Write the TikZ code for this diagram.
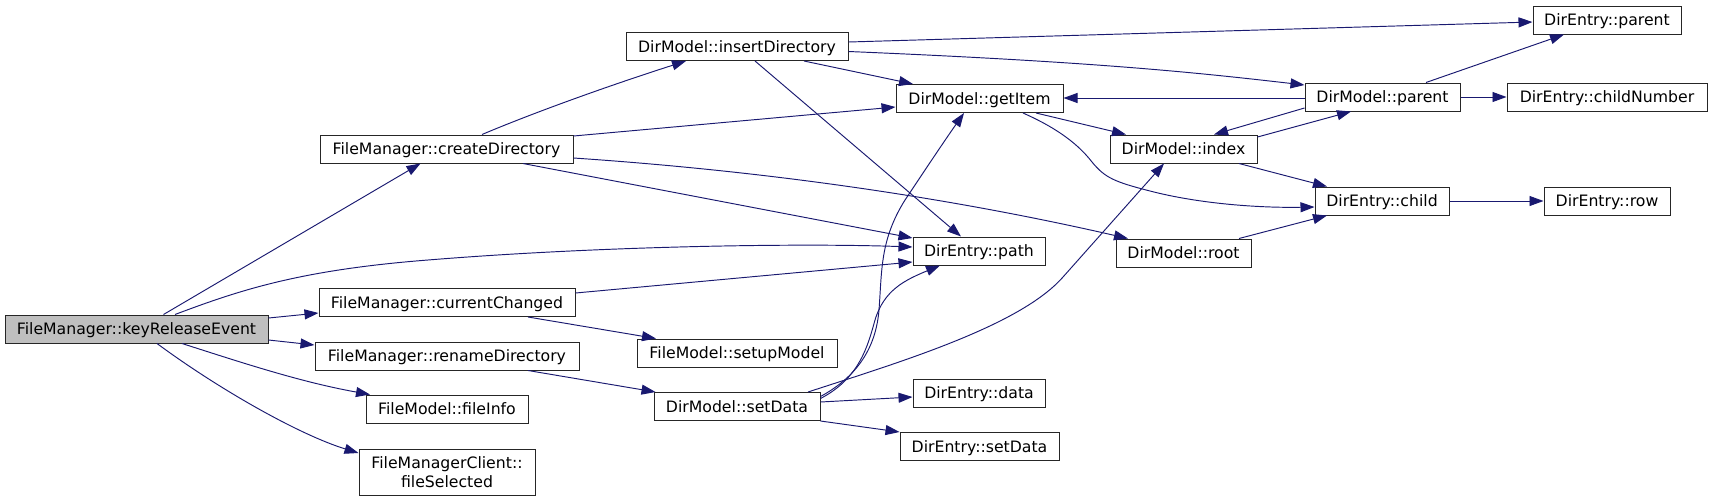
\documentclass[tikz,border=0pt]{standalone}
\usepackage{fontspec}
\setmainfont{DejaVu Sans}
\usetikzlibrary{arrows.meta}
\definecolor{edgeblue}{HTML}{191970}
\definecolor{kgray}{HTML}{BFBFBF}
\begin{document}
\begin{tikzpicture}[x=1pt,y=-1pt,
  boxbase/.style={draw=black!85, line width=1pt, rectangle, inner sep=0pt, minimum height=28pt, font=\fontsize{15.7pt}{18.3pt}\selectfont},
  box/.style={boxbase, text height=11.5pt, text depth=0pt},
  e/.style={draw=edgeblue, line width=0.95pt, -{Triangle[length=14pt,width=10pt]}}]
\useasboundingbox (0,0) rectangle (1712,501);
% column 1
\node[box, fill=kgray, minimum width=263pt] (kre) at (136.5,329) {FileManager::keyReleaseEvent};
% column 2
\node[box, minimum width=253pt] (cd) at (446.5,149) {FileManager::createDirectory};
\node[box, minimum width=256pt] (cc) at (447,302.5) {FileManager::currentChanged};
\node[box, minimum width=264pt] (rd) at (447,356) {FileManager::renameDirectory};
\node[box, minimum width=162pt] (fi) at (447,409) {FileModel::fileInfo};
\node[boxbase, minimum width=176pt, minimum height=46pt, align=center] (fs) at (447,472) {FileManagerClient::\\fileSelected};
% column 3
\node[box, minimum width=222pt] (ins) at (737,46.5) {DirModel::insertDirectory};
\node[box, minimum width=200pt] (sm) at (737,353) {FileModel::setupModel};
\node[box, minimum width=166pt] (sd) at (737,406.5) {DirModel::setData};
% column 4
\node[box, minimum width=167pt] (gi) at (979.5,98.5) {DirModel::getItem};
\node[box, minimum width=132pt] (path) at (979,251) {DirEntry::path};
\node[box, minimum width=132pt] (data) at (979,393) {DirEntry::data};
\node[box, minimum width=159pt] (esd) at (979.5,446.5) {DirEntry::setData};
% column 5
\node[box, minimum width=147pt] (idx) at (1183.5,149) {DirModel::index};
\node[box, minimum width=135pt] (root) at (1183.5,253) {DirModel::root};
% column 6
\node[box, minimum width=155pt] (mp) at (1382.5,97) {DirModel::parent};
\node[box, minimum width=134pt] (child) at (1382,201) {DirEntry::child};
% column 7
\node[box, minimum width=148pt] (ep) at (1607,20) {DirEntry::parent};
\node[box, minimum width=200pt] (cn) at (1607,97) {DirEntry::childNumber};
\node[box, minimum width=126pt] (row) at (1607,201) {DirEntry::row};

% edges from keyReleaseEvent
\draw[e] ([xshift=27pt]kre.north) -- ([xshift=-26pt]cd.south);
\draw[e] ([xshift=38.5pt]kre.north) .. controls (240,290) and (300,270) .. (428,260) .. controls (600,246) and (800,243) .. ([yshift=4pt]path.west);
\draw[e] ([yshift=11pt]kre.east) -- ([yshift=-10.5pt]cc.west);
\draw[e] ([yshift=-11pt]kre.east) -- ([yshift=11pt]rd.west);
\draw[e] ([xshift=45.5pt]kre.south) .. controls (240,362) and (300,382) .. ([xshift=-77pt]fi.north);
\draw[e] ([xshift=20.5pt]kre.south) .. controls (220,390) and (300,435) .. ([yshift=19pt]fs.west);
% createDirectory
\draw[e] ([xshift=35.5pt]cd.north) .. controls (540,110) and (620,82) .. ([xshift=-51pt]ins.south);
\draw[e] ([yshift=13pt]cd.east) -- ([yshift=-8.5pt]gi.west);
\draw[e] ([xshift=76.5pt]cd.south) -- ([yshift=13pt]path.west);
\draw[e] ([yshift=-9pt]cd.east) .. controls (780,172) and (960,200) .. ([xshift=-55.5pt]root.north);
% currentChanged, renameDirectory
\draw[e] ([yshift=9.5pt]cc.east) -- ([yshift=-11pt]path.west);
\draw[e] ([xshift=81pt]cc.south) -- ([xshift=-81pt]sm.north);
\draw[e] ([xshift=81pt]rd.south) -- ([xshift=2pt]sd.north west);
% insertDirectory
\draw[e] ([yshift=4.5pt]ins.east) -- ([yshift=-2pt]ep.west);
\draw[e] ([yshift=-5pt]ins.east) .. controls (1100,62) and (1200,73) .. ([yshift=12pt]mp.west);
\draw[e] ([xshift=67pt]ins.south) -- ([xshift=-66.5pt]gi.north);
\draw[e] ([xshift=18pt]ins.south) -- ([xshift=-18pt]path.north);
% getItem
\draw[e] ([xshift=56.5pt]gi.south) -- ([xshift=-57.5pt]idx.north);
\draw[e] ([xshift=43.5pt]gi.south) .. controls (1050,125) and (1075,140) .. (1092,162) .. controls (1105,178) and (1115,182) .. (1150,191) .. controls (1200,204) and (1260,208) .. ([yshift=-6pt]child.west);
% DirModel::parent and index
\draw[e] ([yshift=-1pt]mp.west) -- ([yshift=0.5pt]gi.east);
\draw[e] ([yshift=-11pt]mp.west) -- ([xshift=30.5pt]idx.north);
\draw[e] ([yshift=12pt]idx.east) -- ([xshift=-31.5pt]mp.south);
\draw[e] ([xshift=55.5pt]idx.south) -- ([xshift=-55pt]child.north);
\draw[e] ([xshift=43.5pt]mp.north) -- ([xshift=-43pt]ep.south);
\draw[e] (mp.east) -- (cn.west);
\draw[e] (child.east) -- (row.west);
\draw[e] ([xshift=55.5pt]root.north) -- ([xshift=-55pt]child.south);
% DirModel::setData
\draw[e] ([yshift=10pt]sd.east) .. controls (860,375) and (876,345) .. (879,310) .. controls (882,270) and (880,240) .. (905,200) .. controls (925,170) and (945,140) .. ([xshift=-15.5pt]gi.south);
\draw[e] ([yshift=8pt]sd.east) .. controls (860,378) and (868,345) .. (875,320) .. controls (884,290) and (905,280) .. ([xshift=-39pt]path.south);
\draw[e] ([xshift=71pt]sd.north) .. controls (900,362) and (1020,326) .. (1063,277) -- ([xshift=-19.5pt]idx.south);
\draw[e] ([yshift=4.5pt]sd.east) -- ([yshift=-4pt]data.west);
\draw[e] (sd.south east) -- (esd.north west);
\end{tikzpicture}
\end{document}
